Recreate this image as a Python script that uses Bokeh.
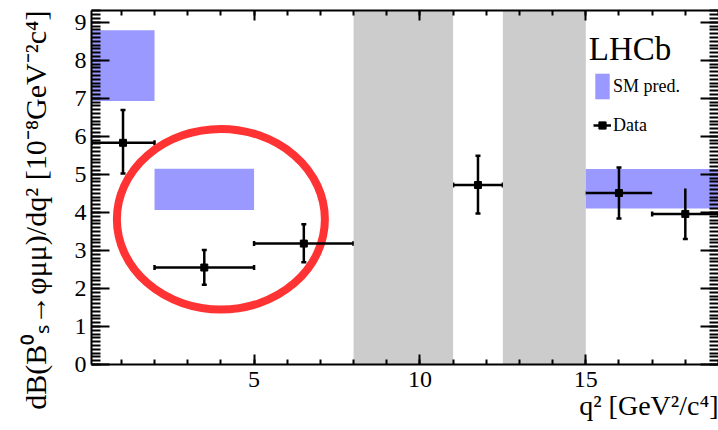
from bokeh.plotting import figure
from bokeh.models import (Range1d, LinearAxis, SingleIntervalTicker, Whisker,
                          ColumnDataSource, Legend, LegendItem, Label, TeeHead,
                          Title)
from bokeh.embed import file_html
from bokeh.resources import INLINE

# ---------------- data ----------------
bin_lo = [0.1, 2.0, 5.0, 11.0, 15.0, 17.0]
bin_hi = [2.0, 5.0, 8.0, 12.5, 17.0, 19.0]
q2_center = [1.05, 3.5, 6.5, 11.75, 16.0, 18.0]
dbf = [5.83, 2.55, 3.18, 4.72, 4.51, 3.96]
dbf_up = [6.69, 3.01, 3.69, 5.49, 5.18, 4.63]
dbf_down = [5.02, 2.10, 2.69, 3.97, 3.84, 3.30]

sm_lo = [0.1, 2.0, 15.0]
sm_hi = [2.0, 5.0, 19.0]
sm_bottom = [6.93, 4.06, 4.10]
sm_top = [8.79, 5.15, 5.14]

veto_lo = [8.0, 12.5]
veto_hi = [11.0, 15.0]

highlight_x = [4.0]
highlight_y = [3.82]
highlight_w = [6.27]
highlight_h = [4.75]

X_MIN, X_MAX = 0.1, 19.0
Y_MIN, Y_MAX = 0.0, 9.31
x_major_ticks = [5, 10, 15]
y_major_ticks = [0, 1, 2, 3, 4, 5, 6, 7, 8, 9]

x_title = "q² [GeV²/c⁴]"
y_title = "dB(B⁰ₛ→φμμ)/dq² [10⁻⁸GeV⁻²c⁴]"

FONT = "Liberation Serif"

# ---------------- figure ----------------
p = figure(width=718, height=430, output_backend="svg", toolbar_location=None,
           x_range=Range1d(X_MIN, X_MAX), y_range=Range1d(Y_MIN, Y_MAX),
           min_border_left=91, min_border_right=0, min_border_top=10,
           min_border_bottom=66)
p.grid.visible = False
p.outline_line_color = None
p.background_fill_color = "white"
p.border_fill_color = "white"


def xticker():
    return SingleIntervalTicker(interval=5, num_minor_ticks=5)


def yticker():
    return SingleIntervalTicker(interval=1, num_minor_ticks=10)


def style_axis(ax, major_in, minor_in):
    ax.major_tick_in = major_in
    ax.major_tick_out = 0
    ax.minor_tick_in = minor_in
    ax.minor_tick_out = 0
    ax.axis_line_width = 2
    ax.major_tick_line_width = 2
    ax.minor_tick_line_width = 2
    ax.axis_line_color = "black"
    ax.major_tick_line_color = "black"
    ax.minor_tick_line_color = "black"
    ax.major_label_text_font = FONT
    ax.major_label_text_font_size = "24px"
    ax.major_label_text_color = "black"


def hide_labels(ax, ticks):
    ax.major_label_overrides = {t: "" for t in ticks}
    ax.major_label_text_font_size = "1px"
    ax.major_label_text_color = None
    ax.major_label_standoff = 0


xa = p.xaxis[0]
xa.ticker = xticker()
style_axis(xa, 10, 5)
xa.major_label_standoff = 7

ya = p.yaxis[0]
ya.ticker = yticker()
style_axis(ya, 18, 9)
ya.major_label_standoff = 5

top = LinearAxis(ticker=xticker())
style_axis(top, 10, 5)
hide_labels(top, x_major_ticks)
p.add_layout(top, "above")

right = LinearAxis(ticker=yticker())
style_axis(right, 18, 9)
right.axis_line_color = None
hide_labels(right, y_major_ticks)
p.add_layout(right, "right")

# axis titles, aligned to the right / top end like the original
p.add_layout(Title(text=x_title, align="right", vertical_align="top",
                   standoff=0, text_font=FONT, text_font_size="28px",
                   text_font_style="normal", text_color="black"), "below")
p.add_layout(Title(text=y_title, align="right", vertical_align="top",
                   standoff=36, text_font=FONT, text_font_size="30px",
                   text_font_style="normal", text_color="black"), "left")

# ---------------- glyphs ----------------
p.quad(left=veto_lo, right=veto_hi, bottom=[Y_MIN] * len(veto_lo),
       top=[Y_MAX] * len(veto_lo), fill_color="#cccccc", line_color=None)
sm_r = p.quad(left=sm_lo, right=sm_hi, bottom=sm_bottom, top=sm_top,
              fill_color="#9999ff", line_color=None)

p.ellipse(x=highlight_x, y=highlight_y, width=highlight_w, height=highlight_h,
          fill_color=None, line_color="#ff3333", line_width=8)

src = ColumnDataSource(dict(x=q2_center, y=dbf, up=dbf_up, down=dbf_down,
                            lo=bin_lo, hi=bin_hi))
hbar = p.segment(x0="lo", y0="y", x1="hi", y1="y", source=src,
                 line_color="black", line_width=2.5)
p.segment(x0="x", y0="down", x1="x", y1="up", source=src,
          line_color="black", line_width=2.5)
p.add_layout(Whisker(source=src, base="x", upper="up", lower="down",
                     dimension="height", line_alpha=0,
                     upper_head=TeeHead(size=5, line_width=2.5, line_color="black"),
                     lower_head=TeeHead(size=5, line_width=2.5, line_color="black")))
p.add_layout(Whisker(source=src, base="y", upper="hi", lower="lo",
                     dimension="width", line_alpha=0,
                     upper_head=TeeHead(size=5, line_width=2.5, line_color="black"),
                     lower_head=TeeHead(size=5, line_width=2.5, line_color="black")))
pts = p.scatter(x="x", y="y", source=src, marker="square", size=7,
                color="black")

# ---------------- legend & label ----------------
p.add_layout(Label(x=15.09, y=8.3, text="LHCb", text_font=FONT,
                   text_font_size="33px", text_baseline="alphabetic",
                   text_color="black"))

legend = Legend(items=[LegendItem(label="SM pred.", renderers=[sm_r]),
                       LegendItem(label="Data", renderers=[hbar, pts])],
                location=(502, 223), border_line_color=None,
                background_fill_alpha=0, padding=0, margin=0, spacing=7,
                glyph_width=18, glyph_height=32, label_standoff=2,
                label_text_font=FONT, label_text_font_size="18px",
                label_text_color="black")
p.add_layout(legend)

open("out.html", "w").write(file_html(p, INLINE))
